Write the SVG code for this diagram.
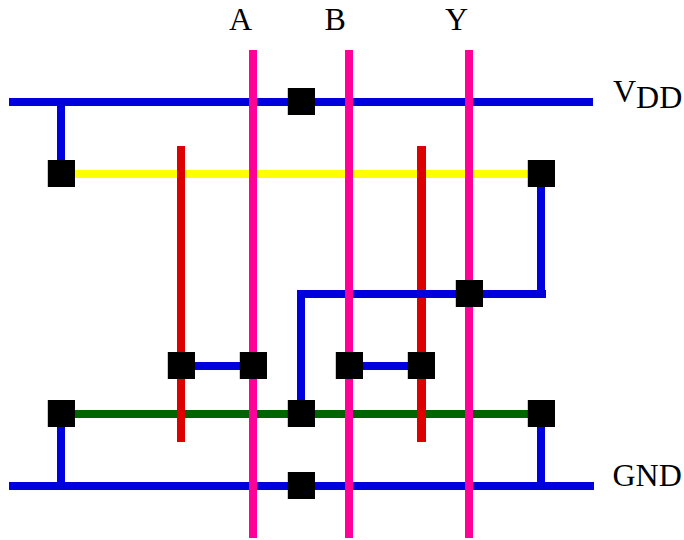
<svg xmlns="http://www.w3.org/2000/svg" width="684" height="540" viewBox="0 0 684 540">
<style>
.m{fill:#0000dd}.p{fill:#ff0099}.r{fill:#dd0000}.y{fill:#ffff00}.g{fill:#006400}.c{fill:#000}
text{font-family:"Liberation Serif","Times New Roman",serif;font-size:32px;fill:#000}
</style>
<rect width="684" height="540" fill="#fff"/>
<g id="connectors">
<rect class="y" x="61" y="170" width="480" height="8"/>
<rect class="g" x="61" y="410" width="480" height="8"/>
<rect class="r" x="177" y="146" width="8" height="296"/>
<rect class="r" x="417" y="146" width="9" height="296"/>
<rect class="m" x="9" y="98" width="584" height="8"/>
<rect class="m" x="9" y="482" width="585" height="8"/>
<rect class="m" x="57" y="102" width="8" height="71"/>
<rect class="m" x="57" y="413" width="8" height="73"/>
<rect class="m" x="537" y="173" width="8" height="125"/>
<rect class="m" x="537" y="413" width="8" height="73"/>
<rect class="m" x="297" y="290" width="249" height="8"/>
<rect class="m" x="297" y="290" width="8" height="123"/>
<rect class="m" x="181" y="362" width="72" height="8"/>
<rect class="m" x="349" y="362" width="72" height="8"/>
<rect class="p" x="249" y="50" width="8" height="488"/>
<rect class="p" x="345" y="50" width="8" height="488"/>
<rect class="p" x="465" y="50" width="8" height="488"/>
</g>
<g id="contact-vdd"><rect class="c" x="287.8" y="88" width="27.2" height="27"/></g>
<g id="contact-tl"><rect class="c" x="47.8" y="160" width="27.2" height="27"/></g>
<g id="contact-tr"><rect class="c" x="527.8" y="160" width="27.2" height="27"/></g>
<g id="contact-y"><rect class="c" x="455.8" y="280" width="27.2" height="27"/></g>
<g id="contact-m1"><rect class="c" x="167.8" y="352" width="27.2" height="27"/></g>
<g id="contact-m2"><rect class="c" x="239.8" y="352" width="27.2" height="27"/></g>
<g id="contact-m3"><rect class="c" x="335.8" y="352" width="27.2" height="27"/></g>
<g id="contact-m4"><rect class="c" x="407.8" y="352" width="27.2" height="27"/></g>
<g id="contact-bl"><rect class="c" x="47.8" y="400" width="27.2" height="27"/></g>
<g id="contact-bm"><rect class="c" x="287.8" y="400" width="27.2" height="27"/></g>
<g id="contact-br"><rect class="c" x="527.8" y="400" width="27.2" height="27"/></g>
<g id="contact-gnd"><rect class="c" x="287.8" y="472" width="27.2" height="27"/></g>
<g id="label-a"><text x="229" y="30">A</text></g>
<g id="label-b"><text x="324.5" y="30">B</text></g>
<g id="label-y"><text x="445" y="30">Y</text></g>
<g id="label-vdd"><text x="613" y="102">V<tspan y="108">DD</tspan></text></g>
<g id="label-gnd"><text x="612.5" y="486">GND</text></g>
</svg>
